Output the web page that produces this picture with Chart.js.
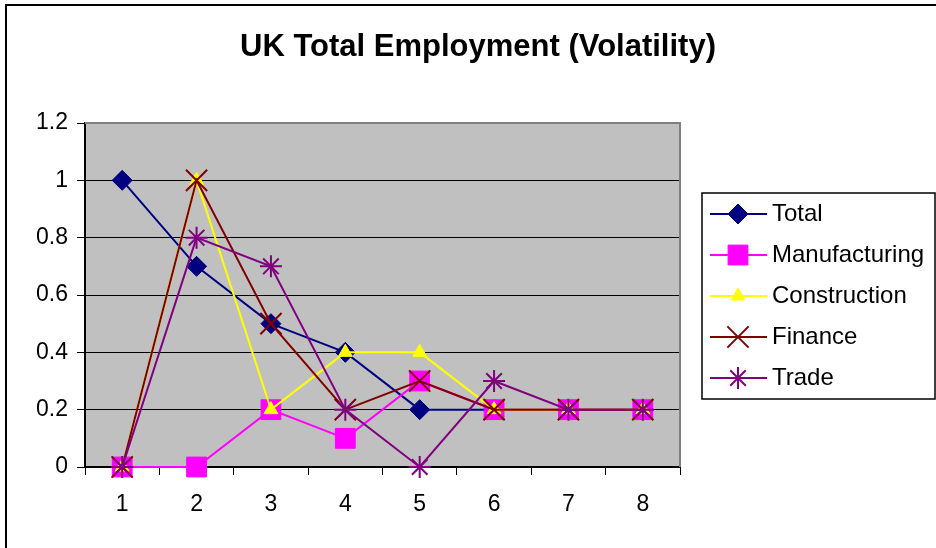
<!DOCTYPE html>
<html>
<head>
<meta charset="utf-8">
<script src="https://cdn.jsdelivr.net/npm/chart.js@4/dist/chart.umd.min.js"></script>
<style>
  html, body { margin: 0; padding: 0; background: #fff; }
  #wrap { width: 936px; height: 548px; position: relative; }
</style>
</head>
<body>
<div id="wrap"><canvas id="c" width="936" height="548"></canvas></div>
<script>
const categories = ['1', '2', '3', '4', '5', '6', '7', '8'];
const total = [1, 0.7, 0.5, 0.4, 0.2, 0.2, 0.2, 0.2];
const manufacturing = [0, 0, 0.2, 0.1, 0.3, 0.2, 0.2, 0.2];
const construction = [0, 1, 0.2, 0.4, 0.4, 0.2, 0.2, 0.2];
const finance = [0, 1, 0.5, 0.2, 0.3, 0.2, 0.2, 0.2];
const trade = [0, 0.8, 0.7, 0.2, 0, 0.3, 0.2, 0.2];
const yTicks = [0, 0.2, 0.4, 0.6, 0.8, 1, 1.2];
const titleText = 'UK Total Employment (Volatility)';

const FONT = '"Liberation Sans", Arial, sans-serif';

function ds(label, data, color, style, radius, order, fill) {
  return {
    label, data, order,
    borderColor: color, borderWidth: 2,
    pointStyle: style, pointRadius: radius, pointHoverRadius: radius,
    pointBackgroundColor: fill ? color : 'transparent',
    pointBorderColor: color, pointBorderWidth: fill ? 1 : 2,
    tension: 0, clip: false
  };
}

const datasets = [
  ds('Total', total, '#000080', 'rectRot', 10, 4, true),
  ds('Manufacturing', manufacturing, '#FF00FF', 'rect', 14, 3, true),
  ds('Construction', construction, '#FFFF00', 'triangle', 8, 2, true),
  ds('Finance', finance, '#800000', 'crossRot', 15, 1, false),
  ds('Trade', trade, '#800080', 'star', 11, 0, false)
];

function drawMarker(ctx, style, r, x, y) {
  Chart.helpers.drawPoint(ctx, { pointStyle: style, radius: r, rotation: 0, borderWidth: ctx.lineWidth }, x, y);
}

const decor = {
  id: 'decor',
  beforeDraw(chart) {
    const { ctx, chartArea: a } = chart;
    ctx.save();
    ctx.fillStyle = '#fff';
    ctx.fillRect(0, 0, chart.width, chart.height);
    ctx.strokeStyle = '#000';
    ctx.lineWidth = 2;
    ctx.beginPath();
    ctx.moveTo(6, 560); ctx.lineTo(6, 5); ctx.lineTo(940, 5);
    ctx.stroke();
    ctx.fillStyle = '#C0C0C0';
    ctx.fillRect(a.left, a.top, a.right - a.left, a.bottom - a.top);
    ctx.restore();
  },
  afterDraw(chart) {
    const { ctx, chartArea: a } = chart;
    ctx.save();
    ctx.strokeStyle = '#808080';
    ctx.lineWidth = 2;
    ctx.beginPath();
    ctx.moveTo(a.left, a.top); ctx.lineTo(a.right, a.top); ctx.lineTo(a.right, a.bottom);
    ctx.stroke();
    ctx.fillStyle = '#000';
    ctx.font = 'bold 31px ' + FONT;
    ctx.textAlign = 'center';
    ctx.textBaseline = 'middle';
    ctx.fillText(titleText, 478, 47);
    const lx = 702, ly = 193, lw = 233, lh = 206;
    ctx.strokeStyle = '#000';
    ctx.lineWidth = 1.5;
    ctx.strokeRect(lx, ly, lw, lh);
    ctx.font = '24px ' + FONT;
    ctx.textAlign = 'left';
    chart.data.datasets.forEach((d, i) => {
      const y = 214 + i * 41;
      ctx.strokeStyle = d.borderColor;
      ctx.lineWidth = 2;
      ctx.beginPath();
      ctx.moveTo(710, y); ctx.lineTo(767, y);
      ctx.stroke();
      ctx.save();
      ctx.fillStyle = d.pointBackgroundColor;
      ctx.strokeStyle = d.pointBorderColor;
      ctx.lineWidth = d.pointBorderWidth;
      drawMarker(ctx, d.pointStyle, d.pointRadius, 738, y);
      ctx.restore();
      ctx.fillStyle = '#000';
      ctx.textBaseline = 'middle';
      ctx.fillText(d.label, 772, y);
    });
    ctx.restore();
  }
};

new Chart(document.getElementById('c'), {
  type: 'line',
  data: { labels: categories, datasets },
  options: {
    responsive: false,
    animation: false,
    events: [],
    layout: { padding: { top: 123, left: 0, right: 256, bottom: 0 } },
    plugins: { legend: { display: false }, title: { display: false }, tooltip: { enabled: false } },
    scales: {
      x: {
        offset: true,
        grid: { offset: true, drawOnChartArea: false, color: '#000', tickLength: 8, tickColor: '#000' },
        border: { color: '#000', width: 2 },
        ticks: { color: '#000', font: { family: FONT, size: 23 }, padding: 16, maxRotation: 0 },
        afterFit(s) { s.height = 81; }
      },
      y: {
        min: 0, max: 1.2,
        afterBuildTicks(s) { s.ticks = yTicks.map(v => ({ value: v })); },
        grid: { color: '#000', tickLength: 8, tickColor: '#000', lineWidth: 1 },
        border: { color: '#000', width: 2 },
        ticks: { color: '#000', font: { family: FONT, size: 23 }, padding: 9,
          callback: v => String(v) },
        afterFit(s) { s.width = 85; }
      }
    }
  },
  plugins: [decor]
});
</script>
</body>
</html>
